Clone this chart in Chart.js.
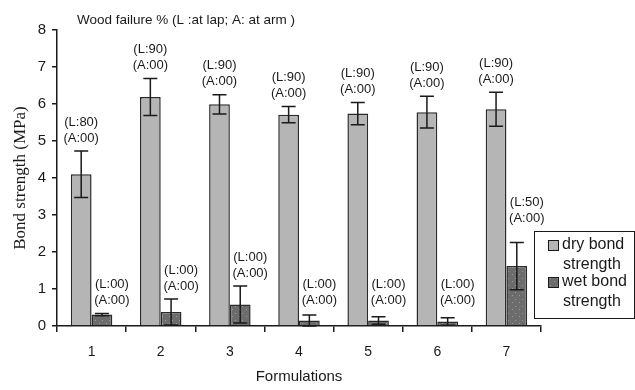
<!DOCTYPE html>
<html>
<head>
<meta charset="utf-8">
<script src="https://cdn.jsdelivr.net/npm/chart.js@4.4.0/dist/chart.umd.min.js"></script>
<style>
  html, body { margin: 0; padding: 0; background: #fff; }
  #wrap { width: 635px; height: 390px; }
</style>
</head>
<body>
<div id="wrap"><canvas id="bond_chart"></canvas></div>
<script>
// DATA
const formulations = ["1", "2", "3", "4", "5", "6", "7"];
const dry_strength = [4.1, 6.19, 5.99, 5.71, 5.74, 5.78, 5.86];
const dry_error = [0.63, 0.5, 0.26, 0.22, 0.3, 0.43, 0.46];
const wet_strength = [0.31, 0.38, 0.58, 0.15, 0.15, 0.12, 1.62];
const wet_error = [0.03, 0.35, 0.5, 0.15, 0.1, 0.1, 0.64];
const dry_lap = ["80", "90", "90", "90", "90", "90", "90"];
const dry_arm = ["00", "00", "00", "00", "00", "00", "00"];
const wet_lap = ["00", "00", "00", "00", "00", "00", "50"];
const wet_arm = ["00", "00", "00", "00", "00", "00", "00"];
const y_ticks = [0, 1, 2, 3, 4, 5, 6, 7, 8];

const ctx = document.getElementById("bond_chart").getContext("2d");

// stippled fill for the wet bars
function dotPattern() {
  const c = document.createElement("canvas");
  c.width = 7;
  c.height = 7;
  const p = c.getContext("2d");
  p.fillStyle = "#6c6c6c";
  p.fillRect(0, 0, 7, 7);
  p.fillStyle = "#9a9a9a";
  p.fillRect(1, 1, 1, 1);
  p.fillRect(4, 5, 1, 1);
  return ctx.createPattern(c, "repeat");
}

const ink = "#1a1a1a";

// error bars + wood failure labels
const errorBars = {
  id: "errorBars",
  afterDatasetsDraw(chart) {
    const c = chart.ctx;
    const y = chart.scales.y;
    const zero = y.getPixelForValue(0);
    const sets = [
      { vals: dry_strength, err: dry_error, lap: dry_lap, arm: dry_arm, dx: 0, wet: false },
      { vals: wet_strength, err: wet_error, lap: wet_lap, arm: wet_arm, dx: 10, wet: true },
    ];
    c.save();
    sets.forEach((s, di) => {
      const meta = chart.getDatasetMeta(di);
      meta.data.forEach((bar, i) => {
        const x = bar.x;
        const top = y.getPixelForValue(s.vals[i] + s.err[i]);
        const bot = y.getPixelForValue(Math.max(s.vals[i] - s.err[i], 0));
        c.strokeStyle = ink;
        c.lineWidth = 1.5;
        c.beginPath();
        c.moveTo(x, top); c.lineTo(x, bot);
        c.moveTo(x - 7, top); c.lineTo(x + 7, top);
        c.moveTo(x - 7, bot); c.lineTo(x + 7, bot);
        c.stroke();

        let aY = top - 13;
        if (s.wet) aY = Math.min(aY, zero - 26);
        // last wet label sits higher, clear of the legend box
        if (s.wet && i === s.vals.length - 1) aY -= 11;
        c.fillStyle = ink;
        c.font = "13px 'Liberation Sans', Arial, sans-serif";
        c.textAlign = "center";
        c.textBaseline = "middle";
        c.fillText("(L:" + s.lap[i] + ")", x + s.dx, aY - 16);
        c.fillText("(A:" + s.arm[i] + ")", x + s.dx, aY);
      });
    });

    // heading
    c.font = "13.5px 'Liberation Sans', Arial, sans-serif";
    c.textAlign = "left";
    c.fillText("Wood failure % (L :at lap; A: at arm )", chart.chartArea.left + 20, 20);
    c.restore();
  },
};

// boxed legend with two-line labels
const boxLegend = {
  id: "boxLegend",
  afterDraw(chart) {
    const c = chart.ctx;
    const area = chart.chartArea;
    const bx = area.right - 7, by = area.bottom - 95;
    c.save();
    c.fillStyle = "#fff";
    c.fillRect(bx, by, 100, 87);
    c.strokeStyle = ink;
    c.lineWidth = 1;
    c.strokeRect(bx + 0.5, by + 0.5, 100, 87);
    c.font = "16px 'Liberation Sans', Arial, sans-serif";
    c.textAlign = "left";
    c.textBaseline = "middle";
    chart.data.datasets.forEach((ds, i) => {
      const words = ds.label.split(" ");
      const ly = by + 14 + i * 37;
      c.fillStyle = ds.backgroundColor;
      c.fillRect(bx + 14, ly - 5, 11, 11);
      c.strokeStyle = ink;
      c.strokeRect(bx + 14.5, ly - 4.5, 10, 10);
      c.fillStyle = ink;
      c.fillText(words[0] + " " + words[1], bx + 28, ly);
      c.fillText(words[2], bx + 29, ly + 20);
    });
    c.restore();
  },
};

const my_chart = new Chart(ctx, {
  type: "bar",
  data: {
    labels: formulations,
    datasets: [
      {
        label: "dry bond strength",
        data: dry_strength,
        backgroundColor: "#b5b5b5",
        borderColor: "#2a2a2a",
        borderWidth: 1.5,
      },
      {
        label: "wet bond strength",
        data: wet_strength,
        backgroundColor: dotPattern(),
        borderColor: "#2a2a2a",
        borderWidth: 1.5,
      },
    ],
  },
  options: {
    responsive: true,
    maintainAspectRatio: false,
    animation: false,
    events: [],
    categoryPercentage: 0.6,
    barPercentage: 1,
    layout: { padding: { top: 30, right: 94, left: 6, bottom: 0 } },
    plugins: {
      legend: { display: false },
      title: { display: false },
      tooltip: { enabled: false },
    },
    scales: {
      x: {
        grid: {
          display: true,
          drawOnChartArea: false,
          offset: true,
          color: ink,
          tickLength: 6,
          lineWidth: 1.5,
        },
        border: { color: ink, width: 1.5 },
        ticks: {
          color: ink,
          padding: 12,
          font: { family: "'Liberation Sans', Arial, sans-serif", size: 14 },
        },
        title: {
          display: true,
          text: "Formulations",
          color: ink,
          padding: { top: 12 },
          font: { family: "'Liberation Sans', Arial, sans-serif", size: 15 },
        },
        afterFit(scale) { scale.height = 64; },
      },
      y: {
        min: 0,
        max: 8,
        afterBuildTicks(scale) { scale.ticks = y_ticks.map((v) => ({ value: v })); },
        grid: {
          display: true,
          drawOnChartArea: false,
          color: ink,
          tickLength: 5,
          lineWidth: 1.5,
        },
        border: { color: ink, width: 1.5 },
        ticks: {
          color: ink,
          padding: 6,
          font: { family: "'Liberation Sans', Arial, sans-serif", size: 15 },
        },
        title: {
          display: true,
          text: "Bond strength (MPa)",
          color: ink,
          padding: { bottom: 4 },
          font: { family: "'Liberation Serif', 'Times New Roman', serif", size: 17 },
        },
        afterFit(scale) { scale.width = 51; },
      },
    },
  },
  plugins: [errorBars, boxLegend],
});
</script>
</body>
</html>
